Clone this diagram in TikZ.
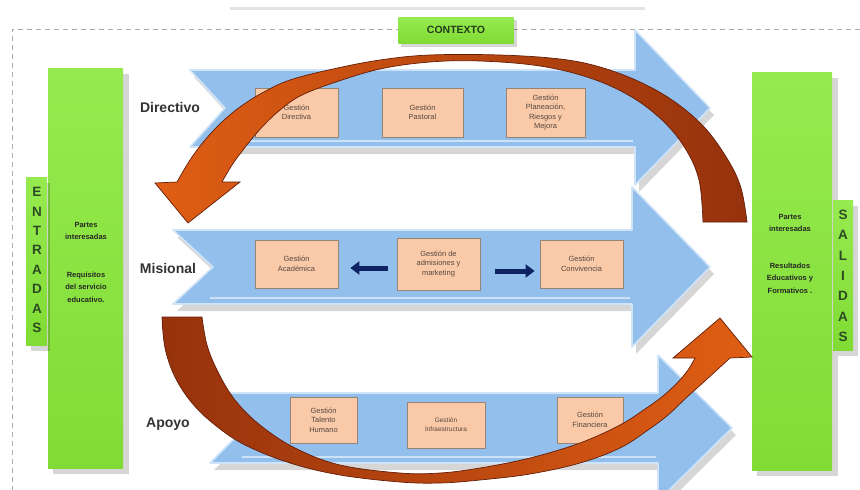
\documentclass[tikz,border=0pt]{standalone}
\usepackage{fontspec}
\setmainfont{Liberation Sans}
\usetikzlibrary{arrows.meta}
\definecolor{blueA}{RGB}{146,191,236}
\definecolor{blueEdge}{RGB}{208,228,249}
\definecolor{peach}{RGB}{250,201,168}
\definecolor{peachEdge}{RGB}{150,132,118}
\definecolor{limeA}{RGB}{128,220,52}
\definecolor{limeB}{RGB}{150,234,80}
\definecolor{brownD}{RGB}{150,50,12}
\definecolor{orangeL}{RGB}{224,94,20}
\definecolor{brownLine}{RGB}{100,30,8}
\definecolor{navy}{RGB}{15,35,100}
\definecolor{txtgreen}{RGB}{45,75,35}
\definecolor{boxtxt}{RGB}{85,72,62}
\begin{document}
\begin{tikzpicture}[x=1pt,y=-1pt,
  procbox/.style={draw=peachEdge, line width=0.8pt, fill=peach, align=center,
    font=\fontsize{7.5}{9.5}\selectfont, text=boxtxt, inner sep=1pt},
  rowlabel/.style={font=\fontsize{14}{16}\selectfont\bfseries, text=black!80},
  bartext/.style={font=\fontsize{7.5}{12.5}\selectfont\bfseries, text=black!85, align=center},
  vletter/.style={font=\fontsize{13.5}{14}\selectfont\bfseries, text=txtgreen, inner sep=0pt},
  greenbar/.style={top color=limeB, bottom color=limeA, draw=none},
  shadowfill/.style={fill=black, opacity=0.16},
  bluearrow/.style={fill=blueA, draw=blueEdge, line width=1.6pt, line join=round},
  brownarc/.style={draw=brownLine, line width=0.7pt},
  navyarrow/.style={draw=navy, line width=5pt, -{Triangle[length=9pt,width=13pt]}}
]
\useasboundingbox (0,0) rectangle (860,490);
\fill[white] (0,0) rectangle (860,490);

% faint top line and dashed context frame
\draw[gray!22, line width=3pt] (230,8) -- (645,8);
\draw[gray!65, dash pattern=on 5pt off 4pt, line width=0.9pt] (860,29) -- (12,29) -- (12,490);

% green bars with shadows
\fill[shadowfill] (53,74) rectangle (129,474);
\fill[greenbar] (48,68) rectangle (123,468);
\fill[shadowfill] (31,183) rectangle (50,351);
\fill[greenbar] (26,177) rectangle (47,345);
\fill[shadowfill] (757,78) rectangle (838,476);
\fill[greenbar] (752,72) rectangle (832,470);
\fill[shadowfill] (838,206) rectangle (858,356);
\fill[greenbar] (833,200) rectangle (853,350);

% CONTEXTO
\fill[shadowfill] (401,20) rectangle (517,47);
\node[top color=limeB, bottom color=limeA, minimum width=115pt, minimum height=26pt,
  inner sep=0pt, font=\fontsize{10.5}{12}\selectfont\bfseries, text=txtgreen!80!black] (ctx) at (456,30) {CONTEXTO};

% blue process arrows: shadows
\fill[shadowfill, shift={(4,7)}] (190,70) -- (635,70) -- (635,30) -- (710,108) -- (635,185) -- (635,147) -- (190,147) -- (225,108) -- cycle;
\fill[shadowfill, shift={(4,7)}] (173,230) -- (632,230) -- (632,187) -- (710,267) -- (632,347) -- (632,304) -- (173,304) -- (213,267) -- cycle;
\fill[shadowfill, shift={(4,7)}] (210,393) -- (658,393) -- (658,355) -- (732,428) -- (658,501) -- (658,463) -- (210,463) -- (245,428) -- cycle;
% blue process arrows
\path[bluearrow] (190,70) -- (635,70) -- (635,30) -- (710,108) -- (635,185) -- (635,147) -- (190,147) -- (225,108) -- cycle;
\path[bluearrow] (173,230) -- (632,230) -- (632,187) -- (710,267) -- (632,347) -- (632,304) -- (173,304) -- (213,267) -- cycle;
\path[bluearrow] (210,393) -- (658,393) -- (658,355) -- (732,428) -- (658,501) -- (658,463) -- (210,463) -- (245,428) -- cycle;
% glossy strips
\draw[white, opacity=0.55, line width=2.5pt] (222,141) -- (633,141);
\draw[white, opacity=0.55, line width=2.5pt] (210,298) -- (630,298);
\draw[white, opacity=0.55, line width=2.5pt] (242,457) -- (656,457);

% process boxes
\node[procbox, minimum width=83pt, minimum height=49pt] (dir1) at (296.5,112.5) {Gestión\\Directiva};
\node[procbox, minimum width=81pt, minimum height=49pt] (dir2) at (422.5,112.5) {Gestión\\Pastoral};
\node[procbox, minimum width=79pt, minimum height=49pt] (dir3) at (545.5,112.5) {Gestión\\Planeación,\\Riesgos y\\Mejora};
\node[procbox, minimum width=83pt, minimum height=48pt] (mis1) at (296.5,264) {Gestión\\Académica};
\node[procbox, minimum width=83pt, minimum height=52pt] (mis2) at (438.5,264) {Gestión de\\admisiones y\\marketing};
\node[procbox, minimum width=83pt, minimum height=48pt] (mis3) at (581.5,264) {Gestión\\Convivencia};
\node[procbox, minimum width=67pt, minimum height=46pt] (apo1) at (323.5,420) {Gestión\\Talento\\Humano};
\node[procbox, minimum width=78pt, minimum height=46pt, font=\fontsize{6.5}{9}\selectfont] (apo2) at (446,425) {Gestión\\Infraestructura};
\node[procbox, minimum width=66pt, minimum height=46pt] (apo3) at (590,420) {Gestión\\Financiera};

% navy arrows
\draw[navyarrow, shorten <=9pt, shorten >=12pt] ([yshift=-4pt]mis2.west) -- ([yshift=-4pt]mis1.east);
\draw[navyarrow, shorten <=15pt, shorten >=5pt] ([yshift=-7pt]mis2.east) -- ([yshift=-7pt]mis3.west);

% top curved arrow (right to left, pointing down-left)
\path[brownarc, left color=orangeL, right color=brownD]
  plot[smooth, tension=0.6] coordinates {(747,222) (741,188) (728,160) (705,128) (675,102) (640,82) (600,67) (560,59) (500,55) (430,55) (380,60) (333,69) (290,80) (262,93) (240,107) (222,122) (205,140) (190,160) (177,182)}
  -- (155,183) -- (188,223) -- (240,182) -- (222,182)
  -- plot[smooth, tension=0.6] coordinates {(222,182) (232,165) (243,150) (255,135) (266,123) (280,110) (300,96) (333,83) (380,69) (430,62) (480,61) (540,66) (590,78) (630,96) (662,120) (685,148) (699,180) (703,222)}
  -- cycle;

% bottom curved arrow (left to right, pointing up-right)
\path[brownarc, left color=brownD, right color=orangeL]
  plot[smooth, tension=0.6] coordinates {(162,317) (165,348) (175,377) (192,403) (215,425) (245,445) (290,463) (340,475) (400,482) (440,483) (480,480) (530,474) (580,463) (620,448) (648,430) (668,415) (686,398) (706,380) (730,358)}
  -- (752,357) -- (720,318) -- (673,358) -- (695,358)
  -- plot[smooth, tension=0.6] coordinates {(695,358) (688,370) (678,382) (663,396) (645,409) (620,425) (580,443) (530,458) (480,468) (440,473) (400,473) (340,465) (295,448) (260,425) (235,400) (218,372) (207,345) (202,317)}
  -- cycle;

% row labels
\node[rowlabel] (ldir) at (170,107) {Directivo};
\node[rowlabel] (lmis) at (168,268) {Misional};
\node[rowlabel] (lapo) at (168,424) {Apoyo};

% bar texts
\node[bartext] (inL1) at (86,231) {Partes\\interesadas};
\node[bartext] (inL2) at (86,287) {Requisitos\\del servicio\\educativo.};
\node[bartext] (outR1) at (790,223) {Partes\\interesadas};
\node[bartext] (outR2) at (790,278) {Resultados\\Educativos y\\Formativos .};

% vertical words
\foreach \l [count=\i] in {E,N,T,R,A,D,A,S}
  \node[vletter] (en\i) at (37,{192+(\i-1)*19.4}) {\l};
\foreach \l [count=\i] in {S,A,L,I,D,A,S}
  \node[vletter] (sa\i) at (843,{215+(\i-1)*20.3}) {\l};
\end{tikzpicture}
\end{document}
